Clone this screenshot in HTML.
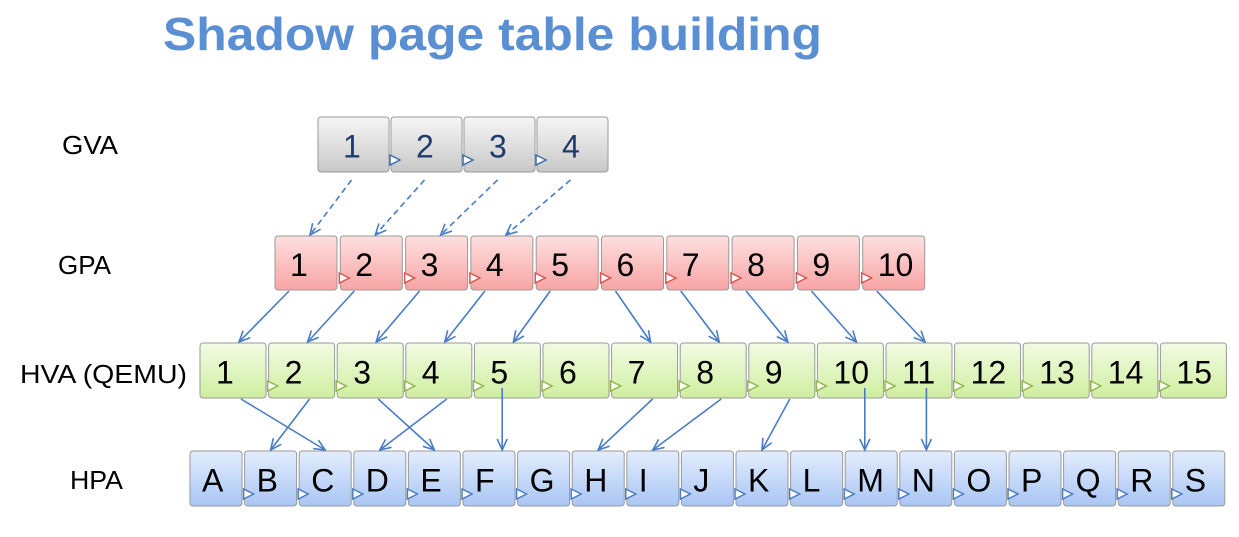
<!DOCTYPE html>
<html><head><meta charset="utf-8"><style>
html,body{margin:0;padding:0;background:#fff;}
svg{display:block;font-family:"Liberation Sans",sans-serif;}
</style></head><body>
<svg id="s" width="1239" height="537" viewBox="0 0 1239 537">
<defs>
<linearGradient id="gGray" x1="0" y1="0" x2="0" y2="1"><stop offset="0" stop-color="#f6f6f6"/><stop offset="1" stop-color="#c8c8c8"/></linearGradient>
<linearGradient id="gRed" x1="0" y1="0" x2="0" y2="1"><stop offset="0" stop-color="#fde0e0"/><stop offset="1" stop-color="#f8a4a4"/></linearGradient>
<linearGradient id="gGreen" x1="0" y1="0" x2="0" y2="1"><stop offset="0" stop-color="#f2fbe4"/><stop offset="1" stop-color="#cfeea0"/></linearGradient>
<linearGradient id="gBlue" x1="0" y1="0" x2="0" y2="1"><stop offset="0" stop-color="#e3edfd"/><stop offset="1" stop-color="#a9c6f4"/></linearGradient>
<marker id="ah" markerWidth="14" markerHeight="12" refX="12" refY="6" orient="auto" markerUnits="userSpaceOnUse"><path d="M1,1 L12,6 L1,11" fill="none" stroke="#4a7cc4" stroke-width="1.6"/></marker>
</defs>
<text x="163" y="50" font-size="46" font-weight="bold" fill="#5b8fd4" textLength="659" lengthAdjust="spacingAndGlyphs">Shadow page table building</text>
<text x="62" y="154" font-size="26" textLength="56" lengthAdjust="spacingAndGlyphs">GVA</text>
<text x="58" y="274" font-size="26" textLength="53" lengthAdjust="spacingAndGlyphs">GPA</text>
<text x="20" y="383" font-size="26" textLength="167" lengthAdjust="spacingAndGlyphs">HVA (QEMU)</text>
<text x="70" y="489" font-size="26" textLength="53" lengthAdjust="spacingAndGlyphs">HPA</text>
<g id="boxes"></g>
<g id="arrows"></g>
</svg>
<script>
const gvaLabels=["1","2","3","4"];
const gpaLabels=["1","2","3","4","5","6","7","8","9","10"];
const hvaLabels=["1","2","3","4","5","6","7","8","9","10","11","12","13","14","15"];
const hpaLabels=["A","B","C","D","E","F","G","H","I","J","K","L","M","N","O","P","Q","R","S"];
const NS="http://www.w3.org/2000/svg";
const rows={
 gva:{x0:318,step:73,w:71,y:117,h:55,fill:"url(#gGray)",tri:"#3e6db0",tc:"#1f3b6e",off:25,labels:gvaLabels},
 gpa:{x0:275,step:65.3,w:62,y:236,h:54,fill:"url(#gRed)",tri:"#d9534f",tc:"#000",off:15,labels:gpaLabels},
 hva:{x0:200,step:68.6,w:66,y:343,h:55,fill:"url(#gGreen)",tri:"#8fb84a",tc:"#000",off:16,labels:hvaLabels},
 hpa:{x0:190,step:54.6,w:52,y:451,h:55,fill:"url(#gBlue)",tri:"#4a7cc4",tc:"#000",off:12,labels:hpaLabels}
};
const bg=document.getElementById('boxes');
function el(t,a){const e=document.createElementNS(NS,t);for(const k in a)e.setAttribute(k,a[k]);return e;}
for(const key in rows){const r=rows[key];
 r.labels.forEach((lab,i)=>{
  const x=r.x0+i*r.step;
  const rect=el('rect',{x:x,y:r.y,width:r.w,height:r.h,rx:3,fill:r.fill,stroke:"#9a9a9a","stroke-width":1});
  
  
  bg.appendChild(rect);
  const t=el('text',{x:x+r.off,y:r.y+r.h/2+13,"font-size":32,fill:r.tc});
  t.textContent=lab;
  
  
  bg.appendChild(t);
  if(i>0){const ty=r.y+r.h-12;
   const tri=el('path',{d:`M${x-1},${ty-5} L${x+9},${ty} L${x-1},${ty+5} Z`,fill:"#fff",stroke:r.tri,"stroke-width":1.5});
   
   
   bg.appendChild(tri);}
 });}
const gvaToGpa=[[0,0],[1,1],[2,2],[3,3]];
const gpaToHva=[[0,0],[1,1],[2,2],[3,3],[4,4],[5,6],[6,7],[7,8],[8,9],[9,10]];
const hvaToHpa=[[0,2],[1,1],[2,4],[3,3],[4,5],[6,7],[7,8],[8,10],[9,12],[10,13]];
const ag=document.getElementById('arrows');
function cx(r,i){return rows[r].x0+i*rows[r].step+rows[r].w/2;}
function draw(from,to,pairs,dash,srcOff,dstOff,name){
 pairs.forEach(([a,b])=>{
  const fx=cx(from,a)+srcOff, tx=cx(to,b)+dstOff;
  let x1=fx,x2=tx;
  if(Math.abs(fx-tx)<27){x1=x2=(fx+tx)/2;}
  const y1=rows[from].y+rows[from].h+(dash?8:1), y2=rows[to].y-1;
  const y1b=(x1===x2 && !dash)?rows[from].y+rows[from].h-10:y1;
  const l=el('line',{x1:x1,y1:y1b,x2:x2,y2:y2,stroke:"#4a7cc4","stroke-width":1.6,"marker-end":"url(#ah)"});
  if(dash)l.setAttribute('stroke-dasharray','6,4');
  
  
  ag.appendChild(l);
 });}
draw('gva','gpa',gvaToGpa,true,-2,4,'gva-gpa');
draw('gpa','hva',gpaToHva,false,-17,6,'gpa-hva');
draw('hva','hpa',hvaToHpa,false,8,0,'hva-hpa');
</script>
</body></html>
